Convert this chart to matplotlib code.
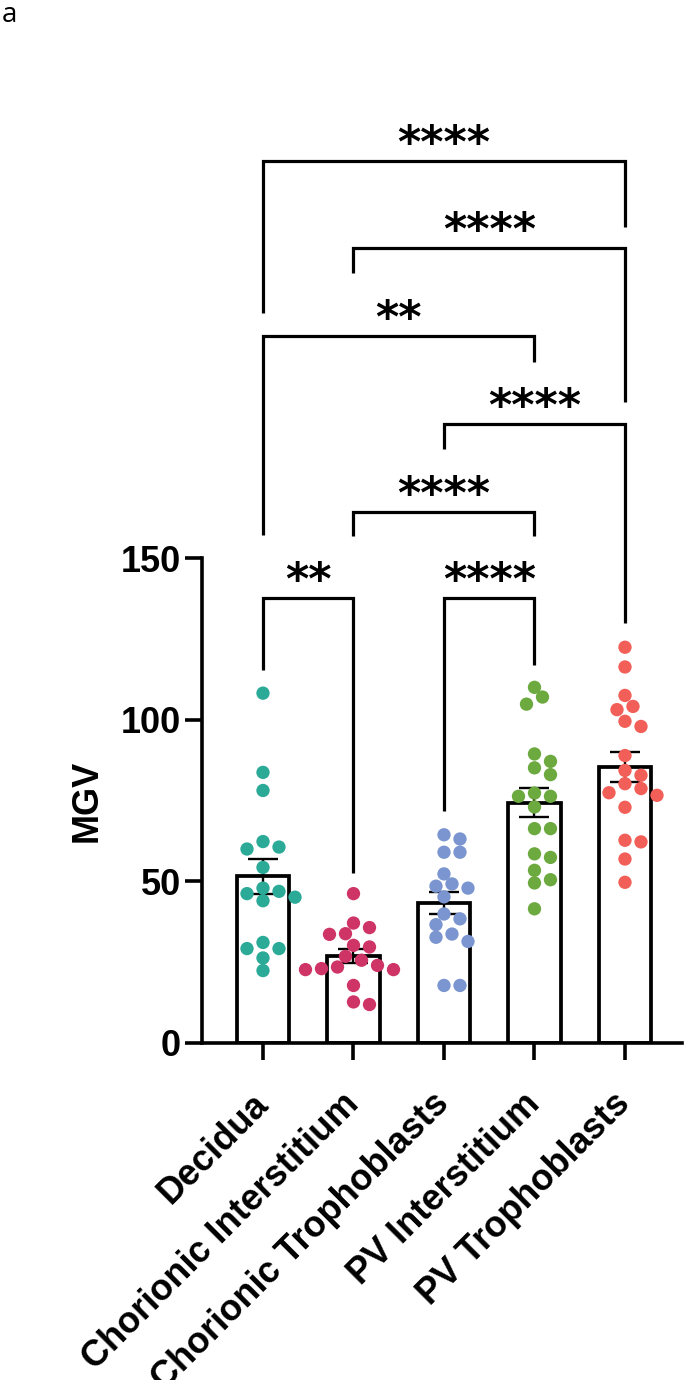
import numpy as np
import matplotlib
matplotlib.use('Agg')
import matplotlib.pyplot as plt

# Data (MGV per region)
groups = ['Decidua', 'Chorionic Interstitium', 'Chorionic Trophoblasts',
          'PV Interstitium', 'PV Trophoblasts']

decidua = [108.2, 83.7, 78.1, 62.3, 60.6, 60.0, 54.3, 47.9, 46.9, 46.2,
           45.1, 44.0, 31.1, 29.2, 29.2, 26.3, 22.4]
chorionic_int = [46.2, 37.1, 35.7, 33.8, 33.6, 30.2, 29.7, 26.8, 25.6, 24.0,
                 23.5, 22.7, 22.7, 23.0, 17.8, 12.7, 11.9]
chorionic_tro = [64.4, 63.1, 59.0, 59.0, 52.3, 49.2, 48.5, 47.9, 45.2, 39.9,
                 38.4, 36.6, 33.7, 32.7, 31.4, 17.8, 17.8]
pv_int = [110.0, 107.0, 104.8, 89.4, 87.1, 85.1, 83.0, 77.3, 76.3, 76.3,
          73.0, 66.3, 66.3, 58.5, 57.4, 53.4, 50.5, 49.5, 41.5]
pv_tro = [122.4, 116.3, 107.5, 104.1, 103.1, 99.5, 97.9, 88.9, 84.3, 82.8,
          80.2, 78.7, 77.4, 76.6, 72.9, 62.7, 62.2, 56.9, 49.7]

all_vals = [decidua, chorionic_int, chorionic_tro, pv_int, pv_tro]
colors = ['#2CAA98', '#CF3467', '#7A95CF', '#6CA93E', '#F25F58']

# significance comparisons (group i, group j, label)
comparisons = [(0, 4, '****'), (1, 4, '****'), (0, 3, '**'), (2, 4, '****'),
               (1, 3, '****'), (0, 1, '**'), (2, 3, '****')]
# bracket layout (y in data units, drawn above the axis)
bracket_y = [272.8, 245.9, 218.7, 191.5, 164.2, 137.6, 137.6]
leg_left = [225.8, 238.2, 157.1, 183.7, 156.8, 115.4, 71.8]
leg_right = [252.4, 198.3, 210.6, 129.9, 156.8, 52.6, 116.9]

plt.rcParams['font.family'] = ['Liberation Sans', 'DejaVu Sans']
plt.rcParams['font.weight'] = 'bold'

fig = plt.figure(figsize=(6.9, 13.8), dpi=100)
ax = fig.add_axes([202 / 690, (1380 - 1043) / 1380, 480 / 690, 485 / 1380])
ax.set_xlim(-0.674, 4.63)
ax.set_ylim(0, 150)

x = np.arange(len(groups))
means = [np.mean(v) for v in all_vals]
sems = [np.std(v, ddof=1) / np.sqrt(len(v)) for v in all_vals]

ax.bar(x, means, width=0.585, color='white', edgecolor='black',
       linewidth=2.7, zorder=1)
ax.errorbar(x, means, yerr=sems, fmt='none', ecolor='black', elinewidth=1.7,
            capsize=11, capthick=1.7, zorder=2)

# simple swarm layout in pixel space
px_x = ax.bbox.width / (ax.get_xlim()[1] - ax.get_xlim()[0])
px_y = ax.bbox.height / (ax.get_ylim()[1] - ax.get_ylim()[0])
step, min_d = 8.0, 12.5
for i, vals in enumerate(all_vals):
    vals = np.array(vals)
    order = np.argsort(-vals)
    placed = []
    offs = np.zeros(len(vals))
    for k in order:
        ypx = vals[k] * px_y
        cands = [0.0]
        for n in range(1, 10):
            cands += [n * step, -n * step]
        for c in cands:
            if all(np.hypot(c - xo, ypx - yo) >= min_d for xo, yo in placed):
                break
        placed.append((c, ypx))
        offs[k] = c / px_x
    ax.scatter(i + offs, vals, s=92, color=colors[i], edgecolor='none',
               zorder=3, clip_on=False)

# brackets
for (a, b, lab), yb, la, lb in zip(comparisons, bracket_y, leg_left, leg_right):
    ax.plot([a, a, b, b], [la, yb, yb, lb], color='black', lw=2.3,
            clip_on=False, solid_capstyle='butt', solid_joinstyle='miter')
    ax.annotate(lab, xy=((a + b) / 2, yb), xytext=(0, 3),
                textcoords='offset points', ha='center', va='baseline',
                fontsize=32, fontweight='bold', family='DejaVu Sans',
                annotation_clip=False)

for side in ['top', 'right']:
    ax.spines[side].set_visible(False)
for side in ['left', 'bottom']:
    ax.spines[side].set_linewidth(2.6)

ax.set_yticks([0, 50, 100, 150])
ax.set_xticks(x)
ax.set_xticklabels(groups, rotation=45, ha='right', va='center',
                   rotation_mode='anchor')
ax.tick_params(axis='both', length=12, width=2.6, labelsize=26)
ax.tick_params(axis='y', pad=3)
ax.tick_params(axis='x', pad=28)
ax.set_ylabel('MGV', fontsize=26, fontweight='bold', labelpad=12)

fig.text(0.002, 0.999, 'a', ha='left', va='top', fontsize=20,
         fontweight='normal', family='Open Sans')

fig.savefig('out.png', dpi=100)
